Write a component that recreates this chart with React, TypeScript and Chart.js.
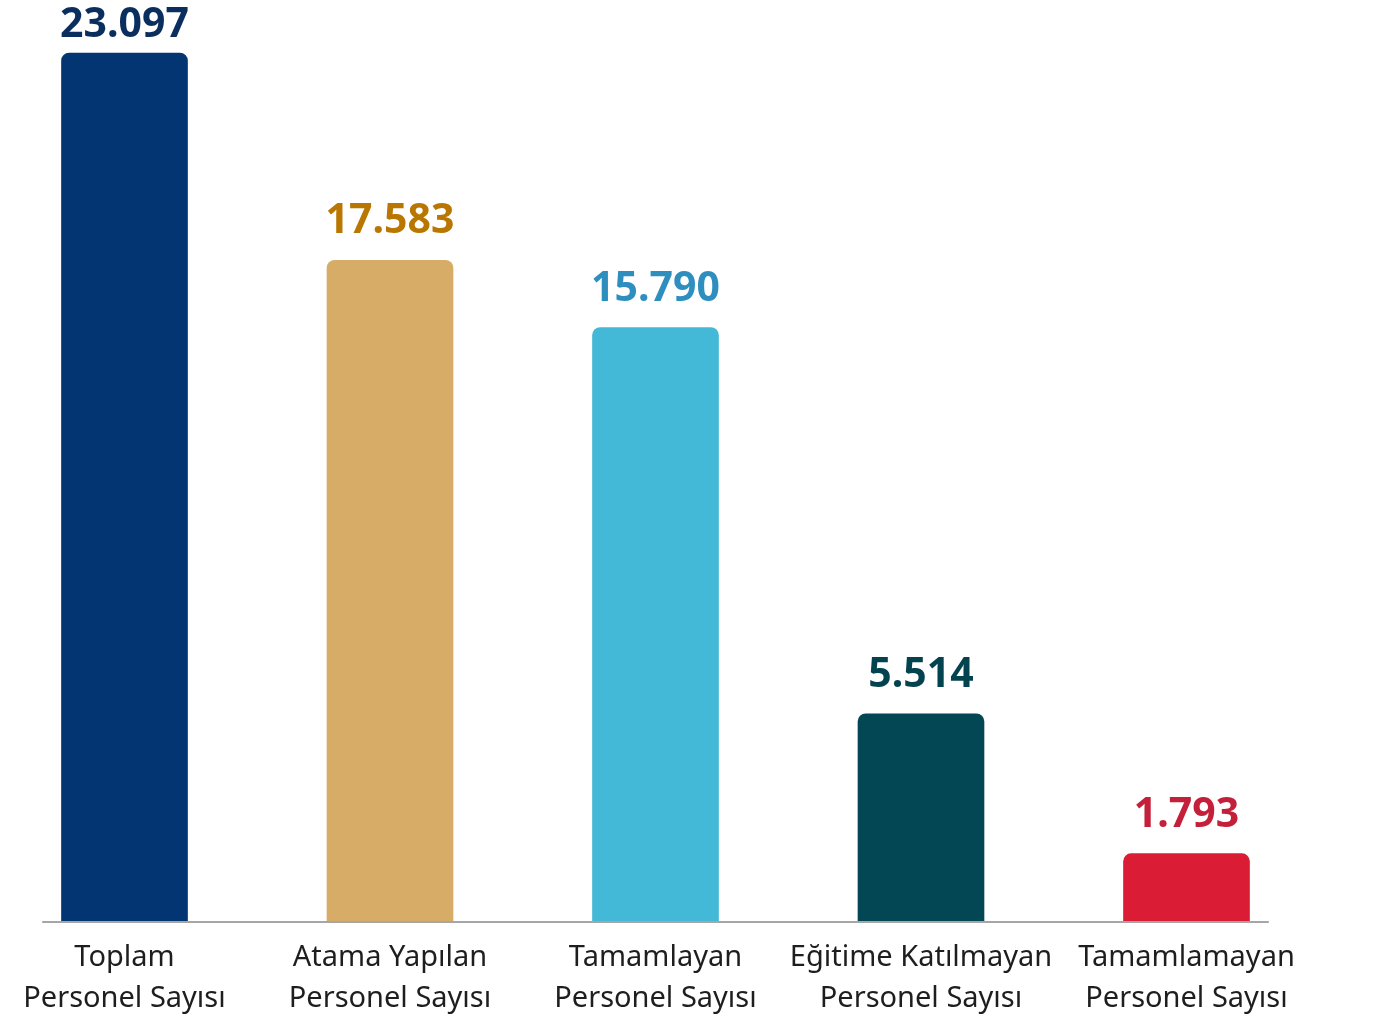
import React, { useEffect, useRef } from "react";
import { Chart, registerables } from "chart.js";

Chart.register(...registerables);

const CATEGORY_LINE1 = ["Toplam", "Atama Yapılan", "Tamamlayan", "Eğitime Katılmayan", "Tamamlamayan"];
const CATEGORY_LINE2 = ["Personel Sayısı", "Personel Sayısı", "Personel Sayısı", "Personel Sayısı", "Personel Sayısı"];
const VALUES = [23097, 17583, 15790, 5514, 1793];
const VALUE_LABELS = ["23.097", "17.583", "15.790", "5.514", "1.793"];
const BAR_COLORS = ["#033573", "#D6AC66", "#43B9D7", "#034654", "#DB1C35"];
const LABEL_COLORS = ["#0A2F5F", "#B97600", "#2E8FBF", "#03434F", "#C4203A"];

const FONT = "'Noto Sans', 'DejaVu Sans', sans-serif";

const valueLabelPlugin = {
  id: "valueLabels",
  afterDatasetsDraw(chart: any) {
    const { ctx } = chart;
    const meta = chart.getDatasetMeta(0);
    ctx.save();
    ctx.font = `bold 41px ${FONT}`;
    ctx.textAlign = "center";
    ctx.textBaseline = "alphabetic";
    meta.data.forEach((bar: any, i: number) => {
      const gap = Math.min(27, bar.y - 37);
      ctx.fillStyle = LABEL_COLORS[i];
      ctx.fillText(VALUE_LABELS[i], bar.x, bar.y - gap);
    });
    ctx.restore();
  },
};

const baselinePlugin = {
  id: "baseline",
  afterDatasetsDraw(chart: any) {
    const { ctx, chartArea } = chart;
    const n = VALUES.length;
    const spacing = (chartArea.right - chartArea.left) / (n - 1);
    const ext = spacing * 0.31;
    ctx.save();
    ctx.strokeStyle = "#A6A6A6";
    ctx.lineWidth = 2;
    ctx.beginPath();
    ctx.moveTo(chartArea.left - ext, chartArea.bottom + 1);
    ctx.lineTo(chartArea.right + ext, chartArea.bottom + 1);
    ctx.stroke();
    ctx.restore();
  },
};

export default function App() {
  const canvasRef = useRef<HTMLCanvasElement | null>(null);

  useEffect(() => {
    document.body.style.margin = "0";
    document.body.style.overflow = "hidden";
    const canvas = canvasRef.current;
    if (!canvas) return;
    const labels = CATEGORY_LINE1.map((l, i) => [l, CATEGORY_LINE2[i]]);
    const chart = new Chart(canvas, {
      type: "bar",
      data: {
        labels,
        datasets: [
          {
            data: VALUES,
            backgroundColor: BAR_COLORS,
            borderWidth: 0,
            borderRadius: { topLeft: 8, topRight: 8, bottomLeft: 0, bottomRight: 0 },
            borderSkipped: false,
            barThickness: 126,
            clip: false as any,
          },
        ],
      },
      options: {
        animation: false,
        responsive: true,
        maintainAspectRatio: false,
        layout: { padding: { left: 124.5, right: 187.5, top: 53, bottom: 0 } },
        plugins: {
          legend: { display: false },
          tooltip: { enabled: false },
        },
        scales: {
          x: {
            offset: false,
            grid: { display: false, drawTicks: false },
            border: { display: false },
            ticks: {
              color: "#1E1E1E",
              padding: 17,
              maxRotation: 0,
              autoSkip: false,
              font: { family: FONT, size: 29, lineHeight: 1.39 },
            },
            afterFit: (scale: any) => {
              scale.height = 97;
            },
          },
          y: {
            display: false,
            min: 0,
            max: Math.max(...VALUES),
          },
        },
      },
      plugins: [baselinePlugin, valueLabelPlugin],
    });
    return () => chart.destroy();
  }, []);

  return (
    <div style={{ width: "1374px", height: "1018px", position: "relative", background: "#ffffff" }}>
      <canvas ref={canvasRef} />
    </div>
  );
}
